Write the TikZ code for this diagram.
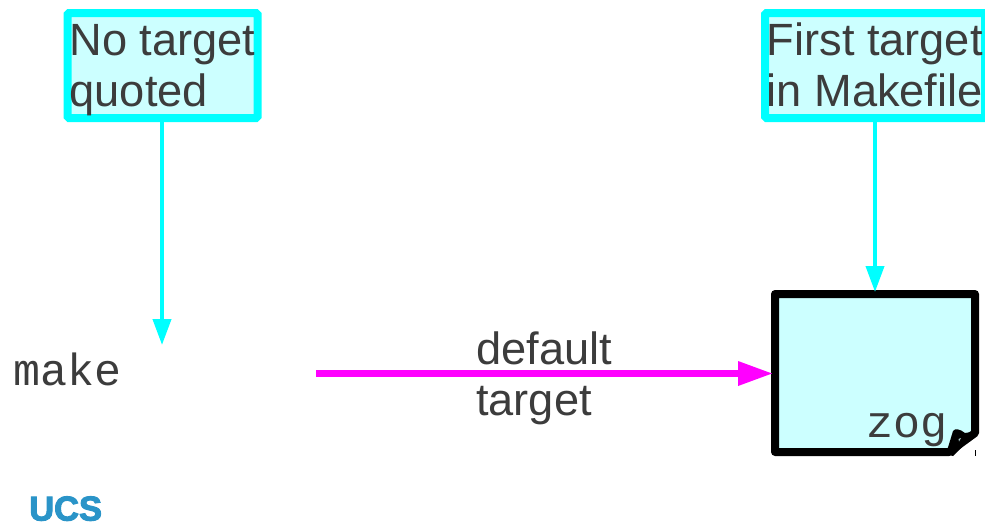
\documentclass[tikz,border=0pt]{standalone}
\usepackage{fontspec}
\setmainfont{Liberation Sans}
\newfontfamily\monof{Liberation Mono}
\newfontfamily\logof[FakeBold=3]{Liberation Sans Bold}
\usetikzlibrary{arrows.meta}
\definecolor{txt}{HTML}{3C3C3C}
\definecolor{pale}{HTML}{CCFFFF}
\definecolor{cyn}{HTML}{00FFFF}
\definecolor{mag}{HTML}{FF00FF}
\definecolor{ucsb}{HTML}{2A94C8}
\tikzset{
 x=1pt,y=-1pt,
 notebox/.style={draw=cyn,fill=pale,line width=8pt,rounded corners=1.5pt},
 label/.style={inner sep=0pt,anchor=base west,text=txt,font=\fontsize{45.2}{51}\selectfont},
 code/.style={inner sep=0pt,anchor=base west,text=txt,font=\fontsize{45}{51}\monof},
 cyanarrow/.style={draw=cyn,line width=4pt,-{Triangle[length=26pt,width=18pt,fill=cyn]}},
 magarrow/.style={draw=mag,line width=6.5pt,-{Triangle[length=35pt,width=23pt,fill=mag]}},
}
\begin{document}
\begin{tikzpicture}
\useasboundingbox (0,0) rectangle (985,525);
\clip (0,0) rectangle (985,525);
% note boxes
\draw[notebox] (67.5,13) rectangle (257.5,118);
\draw[notebox] (765,13) rectangle (985,118);
\coordinate (n1) at (162,121.5);
\coordinate (n2) at (875,121.5);
\node[label] (n1a) at (69.5,55) {No target};
\node[label] (n1b) at (69.5,106) {quoted};
\node[label] (n2a) at (766.5,55) {First target};
\node[label] (n2b) at (766.5,106) {in Makefile};
% file
\draw[fill=pale,draw=black,line width=8pt,line join=round]
  (775,294) -- (975,294) -- (975,433) -- (949,452) -- (775,452) -- cycle;
\fill[black] (978,431) -- (965,433) .. controls (960,429) and (955,428) .. (953,431) -- (946,454) -- (953,456) -- cycle;
\fill[pale!60!gray] (958.5,439) -- (961,438) -- (959,441.5) -- cycle;
\draw[black,line width=1pt] (975.5,450) -- (975.5,456);
\coordinate (fileN) at (875,292);
\coordinate (fileW) at (773,373.5);
\node[code] (zog) at (866,437) {zog};
% make
\node[code] (mk) at (13,385) {make};
\coordinate (mkN) at (162,345);
\coordinate (mkE) at (316,373.5);
% arrows
\draw[cyanarrow] (n1) -- (mkN);
\draw[cyanarrow] (n2) -- (fileN);
\draw[magarrow] (mkE) -- (fileW);
\node[label] (d1) at (476,364) {default};
\node[label] (d2) at (476,415) {target};
% logo
\node[inner sep=0pt,anchor=base west,text=ucsb,font=\fontsize{34.5}{35}\logof] (ucs) at (29,520.5) {UCS};
\end{tikzpicture}
\end{document}
